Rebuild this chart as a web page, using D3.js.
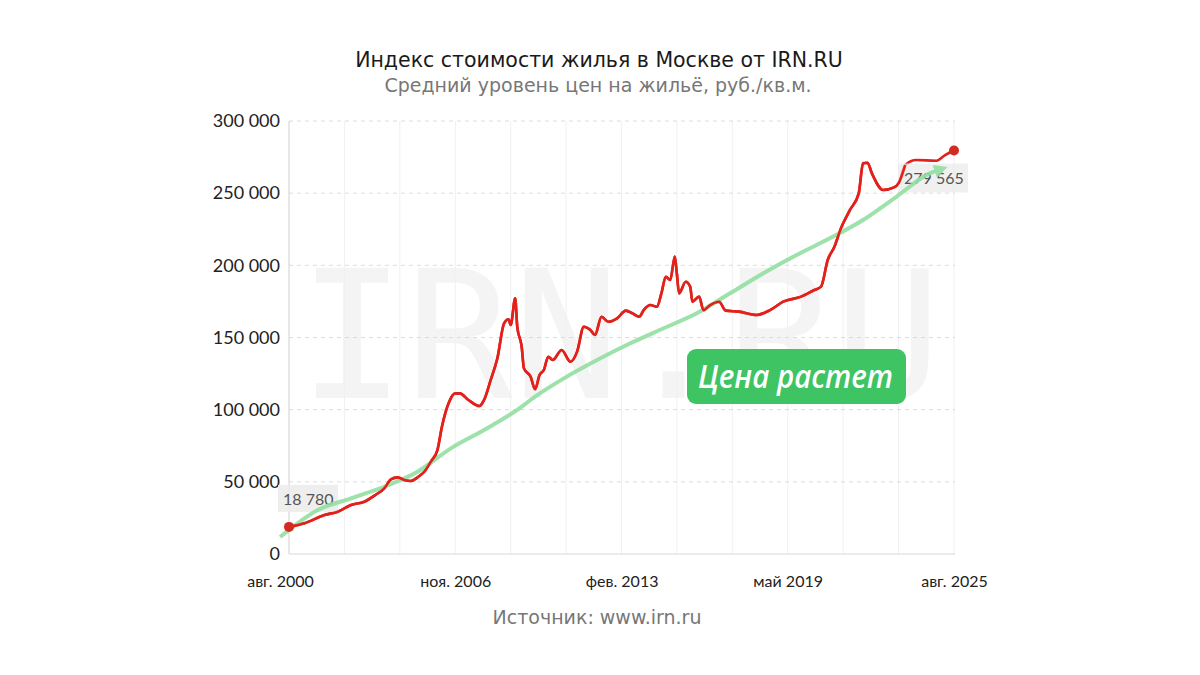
<!DOCTYPE html>
<html><head><meta charset="utf-8">
<script src="https://cdn.jsdelivr.net/npm/d3@7"></script>
<style>
html,body{margin:0;padding:0;background:#fff;}
svg{display:block;}
</style></head>
<body>
<svg id="chart" width="1200" height="675"></svg>
<script>
// ---- data ----
const priceDates = ["2000-08","2001-03","2001-12","2002-06","2002-12","2003-06","2003-11","2004-03","2004-06","2004-09","2004-12","2005-03","2005-06","2005-09","2005-12","2006-03","2006-05","2006-08","2006-11","2007-01","2007-05","2007-10","2007-12","2008-03","2008-06","2008-09","2008-11","2008-12","2009-02","2009-03","2009-05","2009-06","2009-09","2009-11","2010-01","2010-03","2010-05","2010-07","2010-11","2011-03","2011-06","2011-09","2011-12","2012-02","2012-05","2012-08","2012-12","2013-04","2013-07","2013-10","2013-12","2014-03","2014-06","2014-08","2014-10","2014-12","2015-02","2015-03","2015-04","2015-07","2015-09","2015-10","2016-01","2016-03","2016-06","2016-10","2017-01","2017-07","2018-03","2018-09","2019-03","2019-11","2020-05","2020-08","2020-11","2021-02","2021-05","2021-09","2022-01","2022-03","2022-05","2022-07","2022-12","2023-05","2023-07","2023-10","2024-03","2024-12","2025-04","2025-08"];
const priceValues = [18780,21300,27000,29300,34000,36200,40900,45500,51700,53100,51300,50600,53100,57000,64000,72000,88000,104400,111300,111300,106700,102500,106700,120500,135600,159800,162600,158700,177100,157500,143600,128600,122800,114100,124000,127500,136700,134400,141300,133200,140200,157500,155200,151700,164400,160900,163300,168600,166700,164400,169000,172500,171300,180600,192100,189800,206000,194500,180600,188600,185200,174800,178300,169000,172500,174800,168600,167900,165600,169000,174800,178300,182900,185200,203700,212900,225600,238300,249900,270700,271100,263700,252200,254000,256800,269500,273000,272500,276400,279565];

const trendDates = ["2000-04","2001-09","2002-12","2004-03","2005-06","2006-09","2007-12","2009-03","2009-11","2010-12","2012-03","2013-06","2014-09","2015-12","2017-03","2018-06","2019-09","2020-12","2022-03","2023-06","2024-09","2025-01"];
const trendValues = [11800,30500,38600,46600,57000,73200,85900,99800,109000,121700,134400,146000,156400,166800,180600,194500,207200,218700,231400,247500,263700,266000];

const yTicks = [0,50000,100000,150000,200000,250000,300000];
const xTickDates = ["2000-08","2006-11","2013-02","2019-05","2025-08"];
const xTickLabels = ["авг. 2000","ноя. 2006","фев. 2013","май 2019","авг. 2025"];
const gridDates = ["2000-08","2002-09","2004-10","2006-11","2008-12","2011-01","2013-02","2015-03","2017-04","2019-05","2021-06","2023-07","2025-08"];

const titleText = "Индекс стоимости жилья в Москве от IRN.RU";
const subtitleText = "Средний уровень цен на жильё, руб./кв.м.";
const sourceText = "Источник: www.irn.ru";
const badgeText = "Цена растет";
const watermarkText = "IRN.RU";
const firstLabel = "18 780";
const lastLabel = "279 565";

// ---- chart ----
const parse = d3.timeParse("%Y-%m");
const price = priceDates.map((d,i)=>({date:parse(d), value:priceValues[i]}));
const trend = trendDates.map((d,i)=>({date:parse(d), value:trendValues[i]}));

const svg = d3.select("#chart");
const L = 289, R = 954, T = 121, B = 554;
const x = d3.scaleTime().domain([parse("2000-08"), parse("2025-08")]).range([L, R]);
const y = d3.scaleLinear().domain([0, 300000]).range([B, T]);
const fmt = v => d3.format(",")(v).replace(/,/g, " ");

// title
svg.append("text").attr("x", 599).attr("y", 67).attr("text-anchor","middle")
  .style("font-family","DejaVu Sans").style("font-size","20.5px").style("fill","#1a1a1a").text(titleText);
svg.append("text").attr("x", 598).attr("y", 92).attr("text-anchor","middle")
  .style("font-family","DejaVu Sans").style("font-size","19px").style("fill","#777").text(subtitleText);

// watermark
svg.append("text").attr("x", 620).attr("y", 398).attr("text-anchor","middle")
  .style("font-family","DejaVu Sans Mono").style("font-size","178px").style("fill","#f4f4f4").text(watermarkText);

// vertical grid
svg.append("g").selectAll("line").data(gridDates.map(parse)).join("line")
  .attr("x1", d=>x(d)).attr("x2", d=>x(d)).attr("y1", T).attr("y2", B)
  .attr("stroke","#f0f0f0").attr("stroke-width",1);

// horizontal grid
svg.append("g").selectAll("line").data(yTicks.slice(1)).join("line")
  .attr("x1", L).attr("x2", R+1).attr("y1", d=>y(d)).attr("y2", d=>y(d))
  .attr("stroke","#dcdcdc").attr("stroke-width",1).attr("stroke-dasharray","4,4");

// axes lines
svg.append("line").attr("x1",L).attr("x2",L).attr("y1",T).attr("y2",B).attr("stroke","#d8d8d8");
svg.append("line").attr("x1",L).attr("x2",R+1).attr("y1",B).attr("y2",B).attr("stroke","#d8d8d8");

// y axis
const yAxis = svg.append("g").attr("transform",`translate(${L},0)`)
  .call(d3.axisLeft(y).tickValues(yTicks).tickFormat(fmt).tickSize(0).tickPadding(9));
yAxis.select(".domain").remove();
yAxis.selectAll("text").style("font-family","Lato").style("font-size","18px").style("fill","#222");

// x axis
const xAxis = svg.append("g").attr("transform",`translate(0,${B})`)
  .call(d3.axisBottom(x).tickValues(xTickDates.map(parse)).tickFormat((d,i)=>xTickLabels[i]).tickSize(0).tickPadding(22));
xAxis.select(".domain").remove();
xAxis.selectAll("text").style("font-family","Lato").style("font-size","16px").style("fill","#222");
xAxis.selectAll("text").filter((d,i)=>i===0).attr("dx", -9);

// price line
const first = price[0], last = price[price.length-1];
svg.append("path").datum(price)
  .attr("d", d3.line().x(d=>x(d.date)).y(d=>y(d.value)).curve(d3.curveMonotoneX))
  .attr("fill","none").attr("stroke","#e3211b").attr("stroke-width",2.6).attr("stroke-linejoin","round");

// label boxes (under the trend arrow)
const lab = svg.append("g");
lab.append("rect").attr("x", x(first.date)-11).attr("y", y(first.value)-42).attr("width",60).attr("height",27)
  .attr("fill","#ebebeb").attr("opacity",0.85);
lab.append("text").attr("x", x(first.date)-6).attr("y", y(first.value)-22)
  .style("font-family","Lato").style("font-size","16px").style("fill","#555").text(firstLabel);
lab.append("rect").attr("x", x(last.date)-56).attr("y", y(last.value)+13).attr("width",70).attr("height",29)
  .attr("fill","#ebebeb").attr("opacity",0.75);
lab.append("text").attr("x", x(last.date)-50).attr("y", y(last.value)+34)
  .style("font-family","Lato").style("font-size","16px").style("fill","#555").text(lastLabel);

// trend line with arrow
const defs = svg.append("defs");
defs.append("marker").attr("id","arr").attr("viewBox","0 0 10 10").attr("refX",3).attr("refY",5)
  .attr("markerWidth",3.4).attr("markerHeight",3.4).attr("orient","auto").attr("markerUnits","strokeWidth")
  .append("path").attr("d","M0,0 L10,5 L0,10 Z").attr("fill","#93dea2");
svg.append("path").datum(trend)
  .attr("d", d3.line().x(d=>x(d.date)).y(d=>y(d.value)).curve(d3.curveMonotoneX))
  .attr("fill","none").attr("stroke","#93dea2").attr("stroke-width",4).attr("stroke-linecap","butt")
  .attr("opacity",0.9).attr("marker-end","url(#arr)");

// price line again on top where it crosses the trend (keeps red above green)
svg.append("path").datum(price.filter(d=>d.date < parse("2024-01")))
  .attr("d", d3.line().x(d=>x(d.date)).y(d=>y(d.value)).curve(d3.curveMonotoneX))
  .attr("fill","none").attr("stroke","#e3211b").attr("stroke-width",2.6).attr("stroke-linejoin","round");

// dots
svg.append("g").selectAll("circle").data([first,last]).join("circle")
  .attr("cx", d=>x(d.date)).attr("cy", d=>y(d.value)).attr("r",5).attr("fill","#d32a22");

// badge
svg.append("rect").attr("x",687).attr("y",349).attr("width",219).attr("height",55).attr("rx",9)
  .attr("fill","#3ec463");
svg.append("text").attr("x",698).attr("y",388)
  .attr("textLength",195).attr("lengthAdjust","spacingAndGlyphs")
  .style("font-family","Open Sans").style("font-style","italic").style("font-weight","600")
  .style("font-size","33px").style("fill","#fff").text(badgeText);

// source
svg.append("text").attr("x",597).attr("y",624).attr("text-anchor","middle")
  .style("font-family","DejaVu Sans").style("font-size","19px").style("fill","#777").text(sourceText);
</script>
</body></html>
